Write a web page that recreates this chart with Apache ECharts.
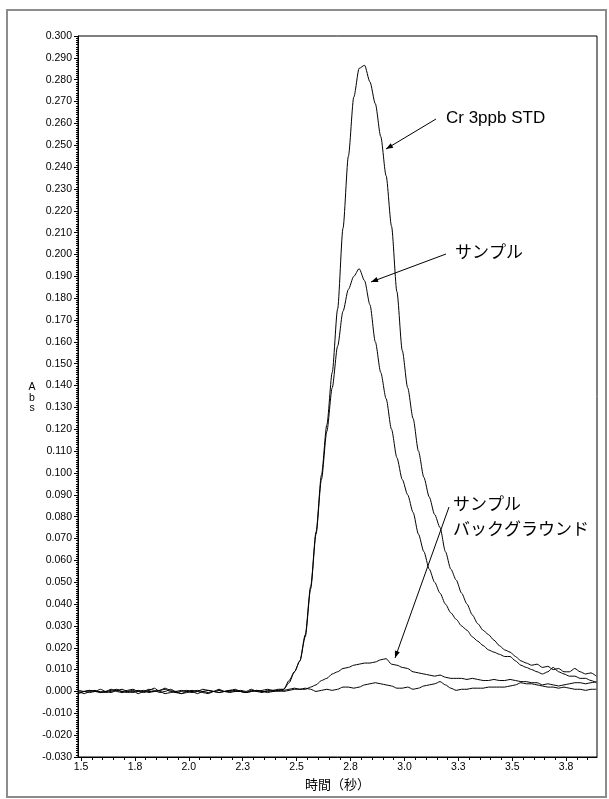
<!DOCTYPE html>
<html><head><meta charset="utf-8">
<script src="https://cdn.jsdelivr.net/npm/echarts@6/dist/echarts.min.js"></script>
<style>html,body{margin:0;padding:0;background:#fff}#c{width:609px;height:799px}</style>
</head><body><div id="c"></div>
<script>
// ---- data ----
const time = [1.490,1.515,1.540,1.565,1.590,1.615,1.640,1.665,1.690,1.715,1.740,1.765,1.790,1.815,1.840,1.865,1.890,1.915,1.940,1.965,1.990,2.015,2.040,2.065,2.090,2.115,2.140,2.165,2.190,2.215,2.240,2.265,2.290,2.315,2.340,2.365,2.390,2.415,2.440,2.465,2.490,2.515,2.540,2.565,2.590,2.615,2.640,2.665,2.690,2.715,2.740,2.765,2.790,2.815,2.840,2.865,2.890,2.915,2.940,2.965,2.990,3.015,3.040,3.065,3.090,3.115,3.140,3.165,3.190,3.215,3.240,3.265,3.290,3.315,3.340,3.365,3.390,3.415,3.440,3.465,3.490,3.515,3.540,3.565,3.590,3.615,3.640,3.665,3.690,3.715,3.740,3.765,3.790,3.815,3.840,3.865,3.890];

const crStd = [0.000,-0.001,0.000,0.0005,-0.0005,0.000,0.001,0.000,-0.0005,0.000,0.0005,-0.001,0.000,0.001,0.0005,-0.0005,0.000,0.001,0.000,-0.001,-0.0005,0.000,0.0005,0.000,-0.0005,0.000,0.001,0.000,-0.0005,0.000,0.0005,0.000,0.001,0.000,-0.0005,0.0005,0.000,0.0005,
  0.001,0.005,0.009,0.014,0.026,0.048,0.073,0.099,0.122,0.146,0.175,0.212,0.245,0.272,0.2852,0.2866,0.279,0.269,0.254,0.236,0.213,0.183,0.156,0.139,0.125,0.110,0.098,0.089,0.081,0.075,0.064,0.056,0.051,0.045,0.040,0.035,0.031,0.028,0.026,0.0235,0.021,0.019,0.018,0.016,0.014,0.013,0.012,0.0125,0.011,0.0115,0.010,0.0105,0.009,0.009,0.0105,0.009,0.008,0.0085,0.007];

const sample = [0.0005,0.000,-0.0005,0.000,0.001,0.000,-0.0005,0.0005,0.001,0.000,-0.0005,0.000,0.0005,-0.0005,0.000,0.0005,0.001,0.000,-0.0005,0.000,0.0005,0.000,-0.001,0.000,0.0005,0.000,-0.0005,0.000,0.0005,0.001,0.000,-0.0005,0.000,0.0005,0.000,0.000,0.0005,0.001,
  0.001,0.004,0.009,0.014,0.025,0.047,0.072,0.097,0.119,0.139,0.158,0.174,0.184,0.190,0.1935,0.188,0.177,0.160,0.146,0.134,0.120,0.107,0.097,0.090,0.082,0.072,0.064,0.056,0.050,0.045,0.040,0.036,0.033,0.030,0.028,0.025,0.023,0.021,0.019,0.018,0.017,0.016,0.016,0.014,0.012,0.011,0.010,0.009,0.008,0.009,0.011,0.009,0.008,0.007,0.007,0.006,0.006,0.005,0.004];

const sampleBackground = [-0.0005,0.000,0.0005,0.000,-0.0005,0.000,0.0005,0.001,0.000,-0.0005,0.000,0.0005,0.000,0.0005,0.0015,0.000,-0.001,-0.0005,0.000,0.0005,0.000,-0.0005,0.000,0.001,0.0005,0.000,-0.0005,0.000,0.0005,0.000,0.000,-0.0005,0.0005,0.000,0.0005,0.001,0.0005,0.000,
  0.0005,0.001,0.0015,0.001,0.001,0.002,0.003,0.005,0.006,0.008,0.009,0.0105,0.011,0.012,0.0125,0.013,0.013,0.0135,0.0145,0.015,0.0125,0.012,0.011,0.0105,0.009,0.0085,0.008,0.0075,0.007,0.0075,0.0065,0.006,0.006,0.006,0.0055,0.006,0.0055,0.005,0.005,0.0055,0.005,0.005,0.0055,0.005,0.0045,0.0045,0.004,0.004,0.003,0.0035,0.003,0.0025,0.003,0.0035,0.004,0.004,0.0035,0.004,0.0045];

const blank = [-0.001,0.000,0.0005,0.000,0.000,-0.0005,0.000,0.0005,0.000,0.0005,0.001,0.000,-0.0005,0.000,0.000,0.0005,0.0015,0.0005,-0.0005,-0.001,0.000,0.0005,0.000,-0.0005,-0.001,0.000,0.0005,0.000,0.000,0.0005,0.000,-0.0005,0.000,0.0005,0.000,-0.0005,0.000,0.0005,
  0.000,0.0005,0.001,0.001,0.0015,0.001,0.000,0.0005,0.001,0.0005,0.001,0.002,0.002,0.0015,0.002,0.003,0.0035,0.004,0.0035,0.003,0.0025,0.0015,0.0015,0.002,0.001,0.0015,0.0025,0.003,0.0035,0.0045,0.003,0.0015,0.0005,0.001,0.001,0.0015,0.0015,0.0015,0.002,0.002,0.002,0.002,0.0025,0.003,0.004,0.0035,0.0035,0.003,0.0025,0.002,0.002,0.0015,0.002,0.0015,0.001,0.001,0.0005,0.001,0.001];

const xTickValues = [1.5,1.75,2.0,2.25,2.5,2.75,3.0,3.25,3.5,3.75];
const xTickLabels = ['1.5','1.8','2.0','2.3','2.5','2.8','3.0','3.3','3.5','3.8'];
const xMinorTickValues = [1.55,1.6,1.65,1.7,1.8,1.85,1.9,1.95,2.05,2.1,2.15,2.2,2.3,2.35,2.4,2.45,2.55,2.6,2.65,2.7,2.8,2.85,2.9,2.95,3.05,3.1,3.15,3.2,3.3,3.35,3.4,3.45,3.55,3.6,3.65,3.7,3.8,3.85];
const yMin = -0.03, yMax = 0.30, yStep = 0.01;
const xMin = 1.486, xMax = 3.893;

const xAxisTitle = '時間（秒）';
const yAxisTitle = 'A\nb\ns';

// ---- layout of annotations (pixels) ----
const annotations = [
  {lines: ['Cr 3ppb STD'], x: 446, y: 118, font: 'Liberation Sans', from: [436,119], to: [386,149]},
  {lines: ['サンプル'], x: 455, y: 252, font: 'Noto Sans CJK JP', from: [446,254], to: [371,282]},
  {lines: ['サンプル','バックグラウンド'], x: 453, y: 504, font: 'Noto Sans CJK JP', from: [449,507], to: [395,658]}
];

const chart = echarts.init(document.getElementById('c'), null, {renderer: 'canvas'});
const pair = arr => time.map((t, i) => [t, arr[i]]);
const lineSeries = (name, arr) => ({
  name, type: 'line', xAxisIndex: 0, yAxisIndex: 0, data: pair(arr),
  showSymbol: false, symbol: 'none', smooth: 0.25, smoothMonotone: 'x',
  lineStyle: {color: '#000', width: 1}, itemStyle: {color: '#000'}, z: 3
});

const graphics = [
  {type: 'rect', shape: {x: 7, y: 10, width: 599, height: 787}, style: {fill: 'none', stroke: '#8c8c8c', lineWidth: 2}, z: 0},
  {type: 'text', x: 32, y: 398, style: {text: yAxisTitle, fill: '#000', fontSize: 10.5, fontFamily: 'Liberation Sans', lineHeight: 10.5, textAlign: 'center', textVerticalAlign: 'middle'}}
];
annotations.forEach(a => {
  a.lines.forEach((ln, k) => {
    graphics.push({type: 'text', x: a.x, y: a.y + k * 24.5, style: {text: ln, fill: '#000', fontSize: 17, fontFamily: a.font, textAlign: 'left', textVerticalAlign: 'middle'}});
  });
  const [x1, y1] = a.from, [x2, y2] = a.to;
  graphics.push({type: 'line', shape: {x1, y1, x2, y2}, style: {stroke: '#000', lineWidth: 1}});
  const dx = x2 - x1, dy = y2 - y1, L = Math.hypot(dx, dy), ux = dx / L, uy = dy / L;
  const bx = x2 - ux * 7, by = y2 - uy * 7;
  graphics.push({type: 'polygon', shape: {points: [[x2, y2], [bx - uy * 2.6, by + ux * 2.6], [bx + uy * 2.6, by - ux * 2.6]]}, style: {fill: '#000'}});
});

const numFont = {fontFamily: 'Liberation Sans', fontSize: 10.5, color: '#000'};

chart.setOption({
  animation: false,
  backgroundColor: '#fff',
  grid: {left: 78, top: 36, right: 12, bottom: 42, containLabel: false, show: true, borderColor: '#000', borderWidth: 1, backgroundColor: '#fff'},
  xAxis: [{
    type: 'value', min: xMin, max: xMax, position: 'bottom',
    name: xAxisTitle, nameLocation: 'middle', nameGap: 20,
    nameTextStyle: {fontFamily: 'Noto Sans CJK JP', fontSize: 13, color: '#000'},
    axisLine: {show: true, onZero: false, lineStyle: {color: '#000', width: 1}},
    axisTick: {show: true, customValues: xTickValues, length: 4, lineStyle: {color: '#000'}},
    axisLabel: Object.assign({show: true, customValues: xTickValues, margin: 5,
      formatter: v => { const i = xTickValues.findIndex(t => Math.abs(t - v) < 1e-6); return i >= 0 ? xTickLabels[i] : ''; }}, numFont),
    splitLine: {show: false}
  }, {
    type: 'value', min: xMin, max: xMax, position: 'bottom', offset: 0,
    axisLine: {show: false, onZero: false},
    axisTick: {show: true, customValues: xMinorTickValues, length: 3, lineStyle: {color: '#000'}},
    axisLabel: {show: false},
    splitLine: {show: false}
  }],
  yAxis: {
    type: 'value', min: yMin, max: yMax, interval: yStep,
    axisLine: {show: true, onZero: false, lineStyle: {color: '#000', width: 1}},
    axisTick: {show: true, length: 4, lineStyle: {color: '#000'}},
    minorTick: {show: true, splitNumber: 10, length: 2, lineStyle: {color: '#000'}},
    axisLabel: Object.assign({margin: 6, formatter: v => (Math.abs(v) < 1e-9 ? 0 : v).toFixed(3)}, numFont),
    splitLine: {show: false}
  },
  series: [
    lineSeries('Cr 3ppb STD', crStd),
    lineSeries('サンプル', sample),
    lineSeries('サンプル バックグラウンド', sampleBackground),
    lineSeries('ブランク', blank)
  ],
  graphic: graphics
});
</script></body></html>
